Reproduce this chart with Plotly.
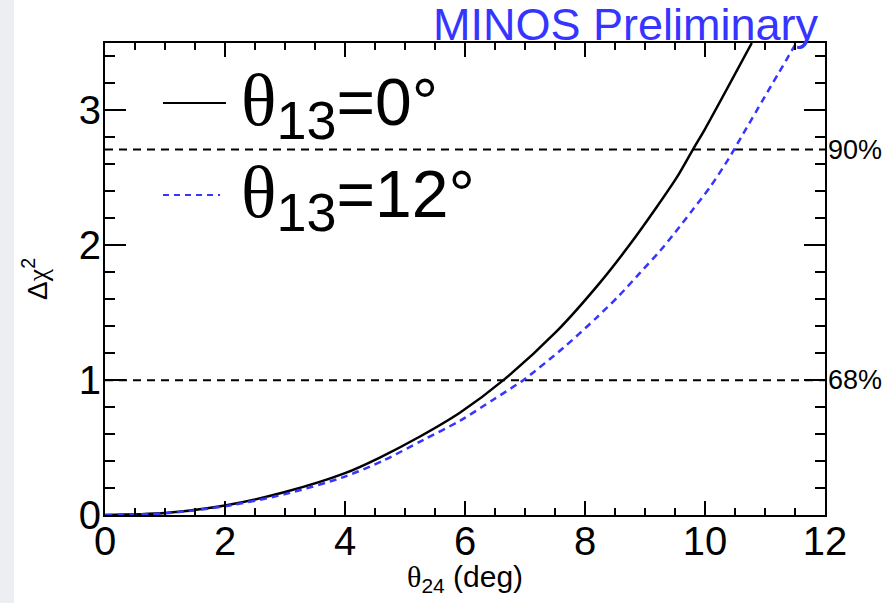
import plotly.graph_objects as go

# Data
theta24_t13_0 = [0, 1, 2, 3, 4, 4.58, 5.25, 5.92, 6.64, 7.53, 8.25, 8.75, 9.19, 9.53, 9.81, 10.0, 10.78]
dchi2_t13_0 = [0, 0.015, 0.07, 0.17, 0.31, 0.426, 0.582, 0.76, 1.0, 1.363, 1.723, 2.007, 2.28, 2.503, 2.719, 2.862, 3.5]

theta24_t13_12 = [0, 1, 2, 3, 4, 4.64, 5.31, 5.92, 6.47, 6.97, 7.64, 8.19, 8.56, 8.92, 9.25, 9.5,
                  9.78, 10.08, 10.39, 10.64, 11.52]
dchi2_t13_12 = [0, 0.013, 0.065, 0.155, 0.285, 0.404, 0.558, 0.70, 0.855, 1.0, 1.24, 1.462, 1.623,
                1.797, 1.958, 2.094, 2.255, 2.429, 2.639, 2.83, 3.5]

cl_levels = [1.0, 2.71]
cl_labels = ["68%", "90%"]

x_range = [0, 12]
y_range = [0, 3.5]
x_ticks = [0, 2, 4, 6, 8, 10, 12]
y_ticks = [0, 1, 2, 3]

legend_names = ["0°", "12°"]

FONT = "Liberation Sans, Arial, Helvetica, sans-serif"
SERIF = "Liberation Serif"
BLUE = "#3535ff"

fig = go.Figure()

for lvl in cl_levels:
    fig.add_trace(go.Scatter(x=x_range, y=[lvl, lvl], mode="lines",
                             line=dict(color="black", width=2, dash="8px,6px"),
                             hoverinfo="skip", showlegend=False))

fig.add_trace(go.Scatter(x=theta24_t13_0, y=dchi2_t13_0, mode="lines",
                         line=dict(color="black", width=2.5, shape="spline", smoothing=0.8),
                         showlegend=False, cliponaxis=True))
fig.add_trace(go.Scatter(x=theta24_t13_12, y=dchi2_t13_12, mode="lines",
                         line=dict(color=BLUE, width=2.5, dash="7px,5px", shape="spline", smoothing=0.8),
                         showlegend=False, cliponaxis=True))

L, R, T, B = 105, 66, 43, 88
W, H = 891, 603
PW, PH = W - L - R, H - T - B


def px(x):
    return (x - L) / PW


def py(y):
    return (H - B - y) / PH


shapes = [
    dict(type="rect", xref="paper", yref="paper", x0=px(0), x1=px(14), y0=py(603), y1=py(0),
         fillcolor="#eceef2", line=dict(width=0), layer="below"),
    dict(type="line", xref="paper", yref="paper", x0=px(163), x1=px(226), y0=py(103), y1=py(103),
         line=dict(color="black", width=2)),
    dict(type="line", xref="paper", yref="paper", x0=px(163), x1=px(220), y0=py(195), y1=py(195),
         line=dict(color=BLUE, width=2, dash="6px,5px")),
]

annotations = []
for lvl, lab in zip(cl_levels, cl_labels):
    annotations.append(dict(x=1.0, xref="paper", y=lvl, yref="y", text=lab, showarrow=False,
                            xanchor="left", yanchor="middle", xshift=1,
                            font=dict(family=FONT, size=27, color="black")))

leg_y = [104, 196]
for name, yy in zip(legend_names, leg_y):
    annotations.append(dict(
        x=px(239), y=py(yy), xref="paper", yref="paper", xanchor="left", yanchor="middle",
        showarrow=False,
        text=(f'<span style="font-family:{SERIF};font-size:74px">θ</span>'
              f'<sub><span style="font-size:54px">13</span></sub>={name}'),
        font=dict(family=FONT, size=66, color="black")))

annotations.append(dict(x=px(821), y=py(52), xref="paper", yref="paper", xanchor="right",
                        yanchor="bottom", showarrow=False, text="MINOS Preliminary",
                        font=dict(family=FONT, size=45, color=BLUE)))

annotations.append(dict(x=px(465), y=py(578), xref="paper", yref="paper", xanchor="center",
                        yanchor="middle", showarrow=False,
                        text=f'<span style="font-family:{SERIF}">θ</span><sub>24</sub> (deg)',
                        font=dict(family=FONT, size=30, color="black")))

annotations.append(dict(x=px(35), y=py(279), xref="paper", yref="paper", xanchor="center",
                        yanchor="middle", showarrow=False, textangle=-90,
                        text=f'Δ<span style="font-family:{SERIF}">χ</span><sup>2</sup>',
                        font=dict(family=FONT, size=28, color="black")))

fig.update_layout(
    width=W, height=H,
    margin=dict(l=L, r=R, t=T, b=B, pad=0),
    paper_bgcolor="white", plot_bgcolor="white",
    showlegend=False,
    shapes=shapes, annotations=annotations,
    xaxis=dict(range=x_range, tickvals=x_ticks, ticks="inside", ticklen=14, tickwidth=1.5,
               tickcolor="black", showline=True, linecolor="black", linewidth=2,
               mirror="allticks", showgrid=False, zeroline=False,
               tickfont=dict(family=FONT, size=40, color="black"), ticklabelstandoff=-10,
               minor=dict(dtick=0.5, ticks="inside", ticklen=7, tickwidth=1.5,
                          tickcolor="black", showgrid=False)),
    yaxis=dict(range=y_range, tickvals=y_ticks, ticks="inside", ticklen=21, tickwidth=1.5,
               tickcolor="black", showline=True, linecolor="black", linewidth=2,
               mirror="allticks", showgrid=False, zeroline=False,
               tickfont=dict(family=FONT, size=40, color="black"), ticklabelstandoff=-6,
               minor=dict(dtick=0.2, ticks="inside", ticklen=10, tickwidth=1.5,
                          tickcolor="black", showgrid=False)),
)

fig.write_html("out.html", config={"displayModeBar": False},
               post_script="document.body.style.margin='0';document.body.style.overflow='hidden';")
